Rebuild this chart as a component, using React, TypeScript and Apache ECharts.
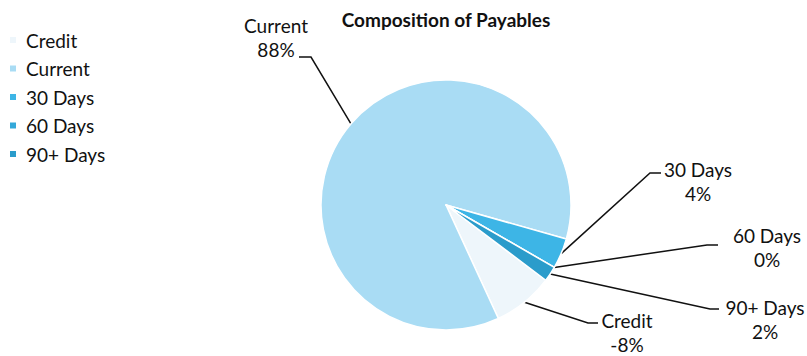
import React, { useEffect, useRef } from "react";
import * as echarts from "echarts";

const categories = ["Credit", "Current", "30 Days", "60 Days", "90+ Days"];
const shares = [-8, 88, 4, 0, 2];
const colors = ["#EEF6FB", "#A9DCF4", "#3DB5E6", "#33A8D9", "#2B9CCB"];
const titleText = "Composition of Payables";

// label block centre and leader elbow / end (layout only)
const labelSpots = [
  { x: 627, y: 332, elbow: [588, 323], end: [598, 323] },
  { x: 276, y: 37, elbow: [311, 57], end: [299, 57] },
  { x: 698, y: 181, elbow: [650, 173], end: [661, 173] },
  { x: 767, y: 247, elbow: [707, 245], end: [718, 245] },
  { x: 765, y: 319, elbow: [710, 309], end: [719, 309] },
];

const FONT = "Lato, 'Open Sans', sans-serif";

export default function App() {
  const ref = useRef<HTMLDivElement>(null);
  useEffect(() => {
    document.body.style.margin = "0";
    if (!ref.current) return;
    const chart = echarts.init(ref.current, undefined, { renderer: "svg" });
    chart.setOption({
      animation: false,
      backgroundColor: "#ffffff",
      title: {
        text: titleText,
        left: 446,
        top: 10,
        padding: 0,
        textAlign: "center",
        textStyle: { fontFamily: FONT, fontWeight: "bold", fontSize: 19, color: "#111" },
      },
      legend: {
        orient: "vertical",
        left: 8,
        top: 30,
        padding: 0,
        itemWidth: 8,
        itemHeight: 8,
        itemGap: 8.5,
        icon: "rect",
        selectedMode: false,
        data: categories,
        textStyle: { fontFamily: FONT, fontSize: 19, color: "#111", lineHeight: 20, padding: [0, 0, 0, 4] },
      },
      series: [
        {
          type: "pie",
          center: [446, 205],
          radius: 125,
          startAngle: -37,
          clockwise: true,
          avoidLabelOverlap: false,
          data: categories.map((name, i) => ({
            name,
            value: Math.abs(shares[i]),
            itemStyle: { color: colors[i] },
          })),
          itemStyle: { borderColor: "#ffffff", borderWidth: 1.5 },
          label: {
            show: true,
            position: "outside",
            fontFamily: FONT,
            fontSize: 19,
            lineHeight: 24,
            color: "#111",
            align: "center",
            formatter: (p: any) => `${p.name}\n${shares[p.dataIndex]}%`,
          },
          labelLine: { show: true, lineStyle: { color: "#111", width: 1.5 } },
          labelLayout: (p: any) => {
            const s = labelSpots[p.dataIndex];
            const start = p.labelLinePoints ? p.labelLinePoints[0] : null;
            const out: any = { x: s.x, y: s.y, align: "center", verticalAlign: "middle" };
            if (start) out.labelLinePoints = [start, s.elbow, s.end];
            return out;
          },
          emphasis: { disabled: true },
        },
      ],
    });
    return () => chart.dispose();
  }, []);
  return <div ref={ref} style={{ width: 807, height: 356 }} />;
}
